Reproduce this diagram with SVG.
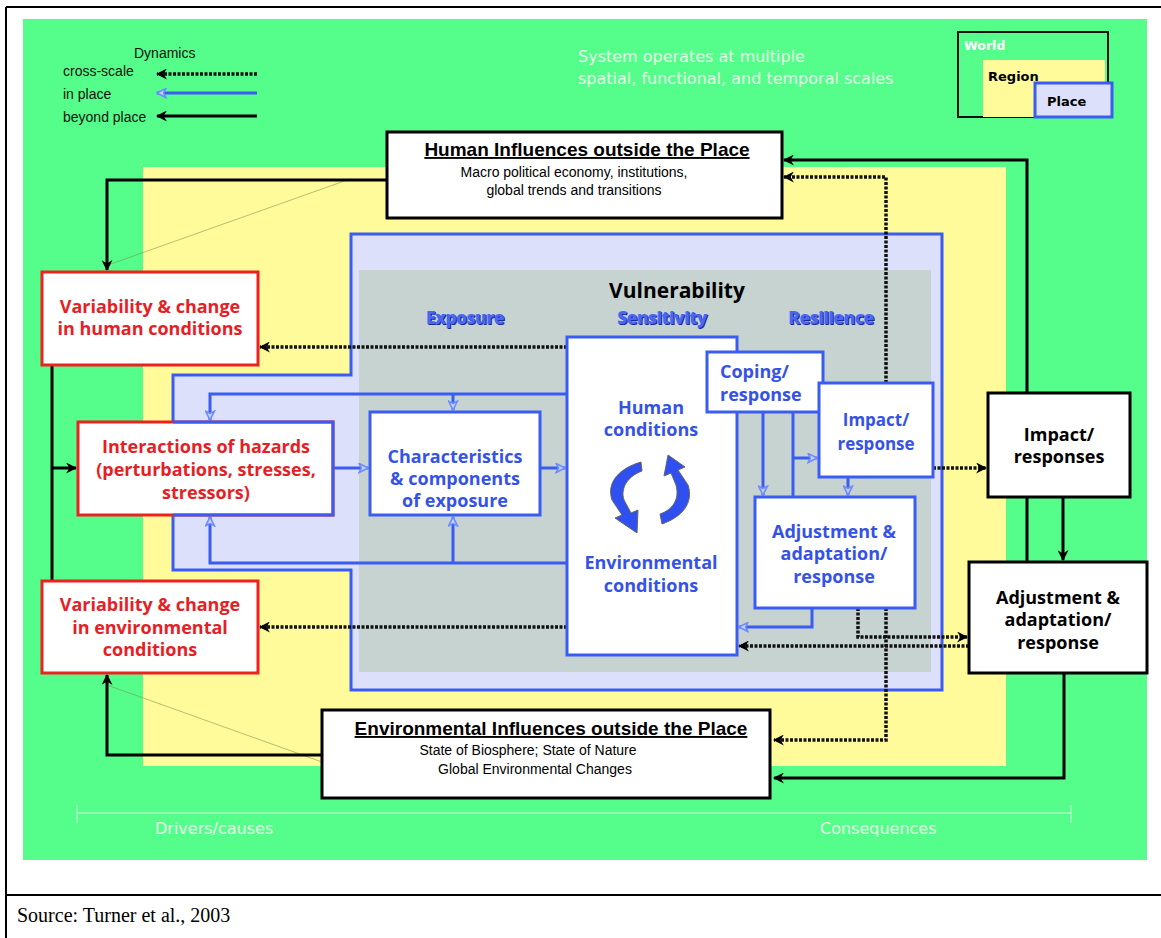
<svg xmlns="http://www.w3.org/2000/svg" width="1161" height="938" viewBox="0 0 1161 938">
<defs>
<style>
.f{font-family:"Liberation Sans",Arial,sans-serif}
.t{font-family:"Open Sans","DejaVu Sans",sans-serif;font-weight:700;text-anchor:middle;font-size:18px}
.lt{font-family:"DejaVu Sans",Verdana,sans-serif;fill:#E6FFE9;font-size:16px}
.tr{fill:#E61E25}
.tb{fill:#3552E8}
.tk{fill:#000}
.box{fill:#fff;stroke-width:3}
.rs{stroke:#EE2020}
.bs{stroke:#3B5CF3}
.ks{stroke:#000}
.ck{fill:none;stroke:#000;stroke-width:3;marker-end:url(#ak)}
.ckn{fill:none;stroke:#000;stroke-width:3}
.cd{fill:none;stroke:#111;stroke-width:3.5;stroke-dasharray:3 1.5;marker-end:url(#ak)}
.cl{fill:none;stroke:#3B5CF3;stroke-width:3;marker-end:url(#ab)}
.cln{fill:none;stroke:#3B5CF3;stroke-width:3}
.sh{font-family:"Open Sans","DejaVu Sans",sans-serif;font-weight:800;text-anchor:middle;font-size:17.5px;letter-spacing:-0.6px}
</style>
<marker id="ak" markerUnits="userSpaceOnUse" markerWidth="11" markerHeight="11" viewBox="0 0 10 10" refX="9" refY="5" orient="auto"><path d="M0,0 L10,5 L0,10 L3,5 z" fill="#000"/></marker>
<marker id="ab" markerUnits="userSpaceOnUse" markerWidth="11" markerHeight="11" viewBox="0 0 10 10" refX="9" refY="5" orient="auto"><path d="M1,1 L9,5 L1,9 L3,5 z" fill="#C9D3FF" stroke="#6E8CFF" stroke-width="1.5"/></marker>
</defs>

<rect width="1161" height="938" fill="#fff"/>
<g id="frame" fill="none" stroke="#000" stroke-width="2">
<path d="M6,7 H1161 M6,7 V938 M6,895 H1161"/>
</g>

<g id="background">
<rect x="23" y="19" width="1124" height="841" fill="#55FD8A"/>
<rect x="143" y="167" width="863" height="599" fill="#FFFB9B"/>
<path d="M351,234 H942 V690 H351 V570 H173 V375 H351 Z" fill="#DCE0FA" stroke="#3B5CF3" stroke-width="3"/>
<rect x="359" y="270" width="572" height="402" fill="#C6D3D0"/>
<path d="M77,813 H1071 M77,805 V823 M1071,805 V823" stroke="#D6FFE0" stroke-width="1" fill="none"/>
<path d="M350,179 L108,265 M107,685 L322,762" stroke="#7E8F4A" stroke-width="0.8" opacity="0.7" fill="none"/>
</g>

<g id="labels">
<text class="lt" x="578" y="62">System operates at multiple</text>
<text class="lt" x="578" y="84">spatial, functional, and temporal scales</text>
<text class="lt" x="155" y="834">Drivers/causes</text>
<text class="lt" x="820" y="834">Consequences</text>
<text class="t tk" x="677" y="298" style="font-size:21px">Vulnerability</text>
<text class="sh" x="466" y="325" fill="#1B2C99">Exposure</text>
<text class="sh" x="465" y="324" fill="#4A66F2">Exposure</text>
<text class="sh" x="663" y="325" fill="#1B2C99">Sensitivity</text>
<text class="sh" x="662" y="324" fill="#4A66F2">Sensitivity</text>
<text class="sh" x="832" y="325" fill="#1B2C99">Resilience</text>
<text class="sh" x="831" y="324" fill="#4A66F2">Resilience</text>
<text class="f" x="17" y="922" style="font-family:'Liberation Serif','Times New Roman',serif;font-size:20px" fill="#000">Source: Turner et al., 2003</text>
</g>

<g id="legend-dynamics">
<text class="f" x="134" y="58" font-size="14" fill="#111">Dynamics</text>
<text class="f" x="63" y="76" font-size="14" fill="#111">cross-scale</text>
<text class="f" x="63" y="99" font-size="14" fill="#111">in place</text>
<text class="f" x="63" y="122" font-size="14" fill="#111">beyond place</text>
<path class="cd" d="M257,74 H157"/>
<path class="cl" d="M257,93 H157"/>
<path class="ck" d="M257,116 H157"/>
</g>

<g id="legend-scales">
<rect x="958" y="32" width="150" height="85" fill="none" stroke="#111" stroke-width="2"/>
<rect x="983" y="60" width="122" height="57" fill="#FFFB9B"/>
<rect x="1035" y="83" width="77" height="34" fill="#DCE0FA" stroke="#3B5CF3" stroke-width="3"/>
<text x="964" y="50" font-family="DejaVu Sans,sans-serif" font-weight="700" font-size="12.5" fill="#fff">World</text>
<text x="988" y="81" font-family="DejaVu Sans,sans-serif" font-weight="700" font-size="13" fill="#000">Region</text>
<text x="1047" y="106" font-family="DejaVu Sans,sans-serif" font-weight="700" font-size="13" fill="#000">Place</text>
</g>

<g id="connectors">
<path class="ck" d="M387,180 H107 V270"/>
<path class="ckn" d="M52,365 V581"/>
<path class="ck" d="M52,468 H76"/>
<path class="ck" d="M322,755 H107 V675"/>
<path class="ck" d="M1027,393 V160 H784"/>
<path class="ck" d="M1063,497 V560"/>
<path class="ckn" d="M1027,497 V562"/>
<path class="ck" d="M1064,673 V778 H774"/>
<path class="cd" d="M886,383 V177 H784"/>
<path class="cd" d="M567,347 H260"/>
<path class="cd" d="M567,627 H260"/>
<path class="cd" d="M933,468 H986"/>
<path class="cd" d="M858,608 V637 H967"/>
<path class="cd" d="M969,646 H739"/>
<path class="cd" d="M886,608 V740 H774"/>
<path class="cl" d="M567,394 H210 V420"/>
<path class="cl" d="M453,394 V410"/>
<path class="cl" d="M567,563 H210 V517"/>
<path class="cl" d="M453,563 V517"/>
<path class="cl" d="M333,468 H368"/>
<path class="cl" d="M540,468 H565"/>
<path class="cl" d="M763,412 V495"/>
<path class="cln" d="M793,412 V497"/>
<path class="cl" d="M793,458 H817"/>
<path class="cl" d="M848,477 V495"/>
<path class="cl" d="M812,608 V627 H739"/>
</g>

<g id="human-influences">
<rect class="box ks" x="387" y="132" width="395" height="86"/>
<text class="f" x="587" y="156" font-size="19" font-weight="700" text-anchor="middle" text-decoration="underline">Human Influences outside the Place</text>
<text class="f" x="574" y="177" font-size="14" text-anchor="middle">Macro political economy, institutions,</text>
<text class="f" x="574" y="195" font-size="14" text-anchor="middle">global trends and transitions</text>
</g>

<g id="env-influences">
<rect class="box ks" x="322" y="710" width="448" height="88"/>
<text class="f" x="551" y="735" font-size="19" font-weight="700" text-anchor="middle" text-decoration="underline">Environmental Influences outside the Place</text>
<text class="f" x="528" y="755" font-size="14" text-anchor="middle">State of Biosphere; State of Nature</text>
<text class="f" x="535" y="774" font-size="14" text-anchor="middle">Global Environmental Changes</text>
</g>

<g id="var-human">
<rect class="box rs" x="42" y="272" width="216" height="93"/>
<text class="t tr" x="150" y="313">Variability &amp; change</text>
<text class="t tr" x="150" y="335">in human conditions</text>
</g>

<g id="hazards">
<rect class="box rs" x="78" y="422" width="255" height="93"/>
<path d="M173,422 H333 V515 H173" fill="none" stroke="#3B5CF3" stroke-width="3"/>
<text class="t tr" x="206" y="453">Interactions of hazards</text>
<text class="t tr" x="206" y="476">(perturbations, stresses,</text>
<text class="t tr" x="206" y="499">stressors)</text>
</g>

<g id="var-env">
<rect class="box rs" x="42" y="581" width="216" height="92"/>
<text class="t tr" x="150" y="611">Variability &amp; change</text>
<text class="t tr" x="150" y="634">in environmental</text>
<text class="t tr" x="150" y="656">conditions</text>
</g>

<g id="characteristics">
<rect class="box bs" x="370" y="412" width="170" height="103"/>
<text class="t tb" x="455" y="463">Characteristics</text>
<text class="t tb" x="455" y="485">&amp; components</text>
<text class="t tb" x="455" y="507">of exposure</text>
</g>

<g id="conditions">
<rect class="box bs" x="567" y="337" width="170" height="318"/>
<text class="t tb" x="651" y="414">Human</text>
<text class="t tb" x="651" y="436">conditions</text>
<text class="t tb" x="651" y="569">Environmental</text>
<text class="t tb" x="651" y="592">conditions</text>
<path d="M641,462 C620,468 606,482 612,500 L622,515 L615,518 L637,533 L638,510 L631,513 L624,500 C620,488 628,476 642,471 Z" fill="#2F4FF0" stroke="#666" stroke-width="1"/>
<path d="M662,524 C682,517 694,503 688,485 L678,470 L685,467 L668,455 L664,476 L671,473 L676,485 C680,500 672,510 660,514 Z" fill="#2F4FF0" stroke="#666" stroke-width="1"/>
</g>

<g id="coping">
<rect class="box bs" x="707" y="352" width="116" height="60"/>
<text class="t tb" x="720" y="378" style="text-anchor:start">Coping/</text>
<text class="t tb" x="720" y="401" style="text-anchor:start">response</text>
</g>

<g id="impact-response">
<rect class="box bs" x="819" y="383" width="114" height="94"/>
<text class="t tb" x="876" y="426" style="font-size:17px">Impact/</text>
<text class="t tb" x="876" y="450" style="font-size:17px">response</text>
</g>

<g id="adjustment-inner">
<rect class="box bs" x="755" y="497" width="160" height="111"/>
<text class="t tb" x="834" y="538">Adjustment &amp;</text>
<text class="t tb" x="834" y="560">adaptation/</text>
<text class="t tb" x="834" y="583">response</text>
</g>

<g id="impact-responses">
<rect class="box ks" x="988" y="393" width="142" height="104"/>
<text class="t tk" x="1059" y="441">Impact/</text>
<text class="t tk" x="1059" y="463">responses</text>
</g>

<g id="adjustment-outer">
<rect class="box ks" x="969" y="562" width="178" height="111"/>
<text class="t tk" x="1058" y="604">Adjustment &amp;</text>
<text class="t tk" x="1058" y="626">adaptation/</text>
<text class="t tk" x="1058" y="649">response</text>
</g>
</svg>
